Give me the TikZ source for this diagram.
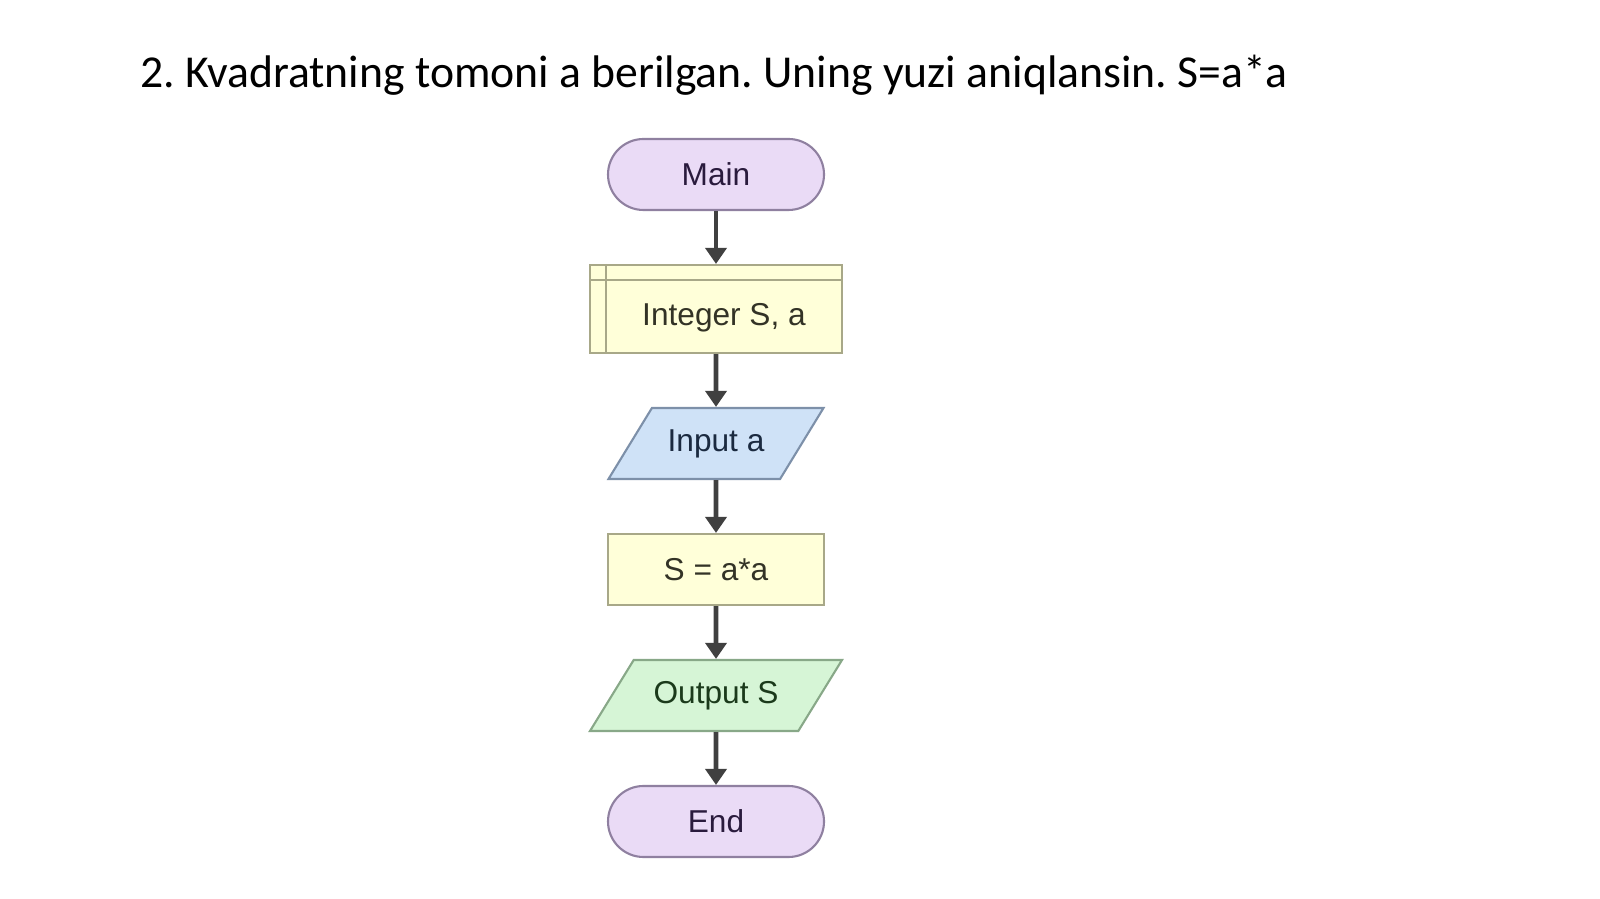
\documentclass[tikz,border=0pt]{standalone}
\usepackage{fontspec}
\setmainfont{Liberation Sans}
\newfontfamily\titlefont{Carlito}
\usetikzlibrary{positioning,
        shapes,
        arrows.meta}
\usepackage{xcolor}
\definecolor{termfill}{HTML}{EADBF6}
\definecolor{termline}{HTML}{8F80A0}
\definecolor{termtext}{HTML}{2A1B3D}
\definecolor{procfill}{HTML}{FFFFD9}
\definecolor{procline}{HTML}{A8A888}
\definecolor{proctext}{HTML}{333326}
\definecolor{infill}{HTML}{CFE2F7}
\definecolor{inline}{HTML}{7D90A9}
\definecolor{intext}{HTML}{1B2A40}
\definecolor{outfill}{HTML}{D6F5D6}
\definecolor{outline}{HTML}{88A888}
\definecolor{outtext}{HTML}{1B3A1B}
\definecolor{flowline}{HTML}{404040}
\frenchspacing

\begin{document}
\begin{tikzpicture}[
        term/.style={rounded corners=0.355cm,draw=termline,fill=termfill,text=termtext,
            line width=0.6pt,minimum width=2.16cm,minimum height=0.71cm,font=\fontsize{9}{10}\selectfont},
        proc/.style={rectangle,draw=procline,fill=procfill,text=proctext,
            line width=0.6pt,minimum width=2.16cm,minimum height=0.71cm,font=\fontsize{9}{10}\selectfont},
        io/.style={trapezium,trapezium left angle=50,trapezium right angle=130,trapezium stretches body=true,
            line width=0.6pt,minimum width=2.15cm,minimum height=0.71cm,font=\fontsize{9}{10}\selectfont},
        flow/.style={draw=flowline,line width=1.3pt,-{Triangle[length=4.6pt,width=6pt]}}]
        \useasboundingbox (0,0) rectangle (16,-8.99);

        \node [anchor=base west,inner sep=0pt,font=\titlefont\fontsize{13}{16}\selectfont] (title) at (1.40,-0.88)
            {2. Kvadratning tomoni a berilgan. Uning yuzi aniqlansin. S=a*a};

        \node [term] (main) at (7.16,-1.745) {Main};
        \node [proc,minimum width=2.52cm,minimum height=0.88cm,
            label={[text=proctext,font=\fontsize{9}{10}\selectfont,xshift=0.08cm,yshift=-0.09cm]center:Integer S, a}]
            (decl) at (7.16,-3.09) {};
        \node [io,draw=inline,fill=infill,text=intext] (input) at (7.16,-4.435) {Input a};
        \node [proc] (calc) at (7.16,-5.695) {S = a*a};
        \node [io,draw=outline,fill=outfill,text=outtext,minimum width=2.52cm] (output) at (7.16,-6.955) {Output S};
        \node [term] (end) at (7.16,-8.215) {End};

        % header lines of the declaration box
        \draw [procline,line width=0.6pt] ([xshift=0.17cm]decl.north west) -- ([xshift=0.17cm]decl.south west);
        \draw [procline,line width=0.6pt] ([yshift=-0.16cm]decl.north west) -- ([yshift=-0.16cm]decl.north east);

        \draw [flow] (main) -- (decl);
        \draw [flow] (decl) -- (input);
        \draw [flow] (input) -- (calc);
        \draw [flow] (calc) -- (output);
        \draw [flow] (output) -- (end);
    \end{tikzpicture}
\end{document}
